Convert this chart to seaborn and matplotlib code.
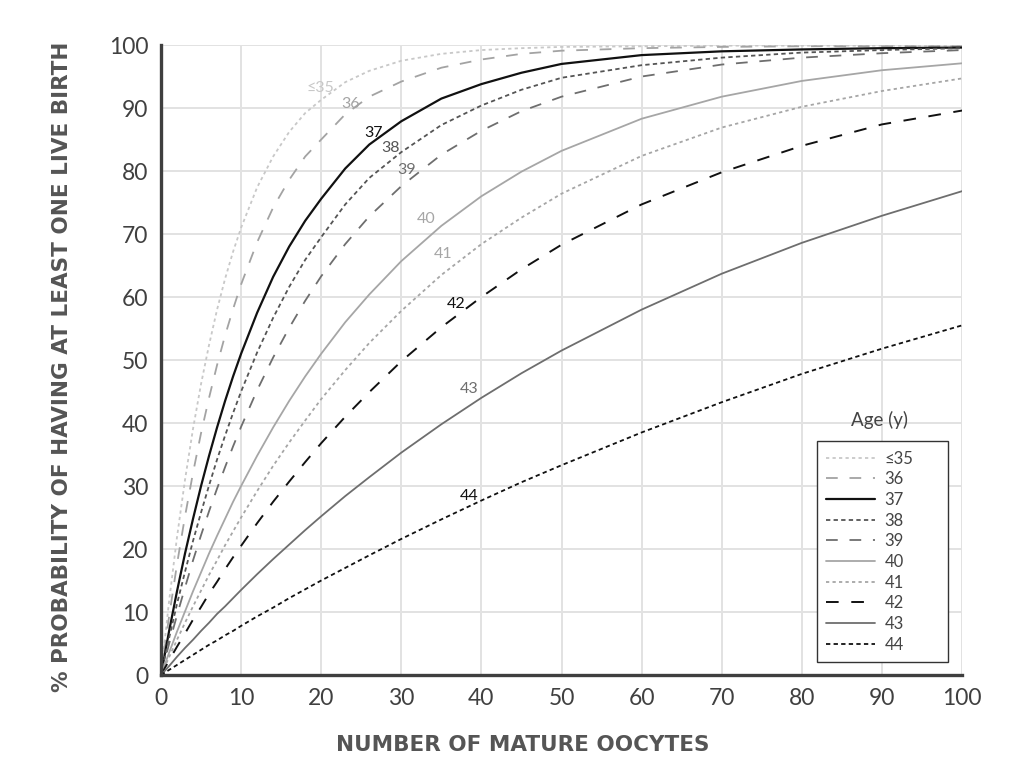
import numpy as np
import pandas as pd
import matplotlib
matplotlib.use("Agg")
import matplotlib.pyplot as plt
import seaborn as sns

# valores (número de ovocitos -> % probabilidad)
oocitos = [0, 1, 2, 3, 4, 5, 6, 7, 8, 9, 10, 12, 14, 16, 18, 20, 23, 26, 30, 35,
           40, 45, 50, 60, 70, 80, 90, 100]

edades = ["≤35", "36", "37", "38", "39", "40", "41", "42", "43", "44"]

prob_35 = [0, 11.6, 21.9, 31.0, 39.1, 46.2, 52.4, 58.0, 62.9, 67.2, 71.0, 77.4, 82.3, 86.2,
           89.2, 91.3, 94.1, 95.9, 97.5, 98.6, 99.2, 99.5, 99.7, 99.8, 99.9, 99.9, 99.9, 99.9]
prob_36 = [0, 9.2, 17.6, 25.2, 32.1, 38.4, 44.0, 49.2, 53.9, 58.1, 62.0, 68.7, 74.2, 78.6,
           82.3, 85.0, 89.0, 91.8, 94.2, 96.4, 97.7, 98.6, 99.1, 99.5, 99.7, 99.8, 99.8, 99.8]
prob_37 = [0, 6.9, 13.3, 19.3, 24.8, 30.0, 34.8, 39.3, 43.5, 47.4, 51.0, 57.5, 63.2, 68.0,
           72.1, 75.6, 80.4, 84.2, 87.9, 91.5, 93.8, 95.6, 97.0, 98.4, 99.0, 99.3, 99.5, 99.6]
prob_38 = [0, 5.8, 11.3, 16.4, 21.3, 25.8, 30.1, 34.2, 38.0, 41.6, 45.0, 51.2, 56.7, 61.6,
           65.9, 69.5, 74.7, 78.9, 83.0, 87.3, 90.4, 92.9, 94.8, 96.8, 98.0, 98.8, 99.2, 99.5]
prob_39 = [0, 4.9, 9.5, 13.9, 18.2, 22.2, 26.0, 29.6, 33.0, 36.3, 39.4, 45.2, 50.4, 55.1,
           59.4, 63.3, 68.4, 72.8, 77.6, 82.6, 86.4, 89.5, 91.8, 95.0, 96.9, 98.0, 98.7, 99.2]
prob_40 = [0, 3.5, 6.9, 10.1, 13.3, 16.3, 19.3, 22.1, 24.8, 27.5, 30.0, 34.8, 39.3, 43.5,
           47.4, 51.0, 56.0, 60.4, 65.7, 71.3, 76.0, 79.9, 83.2, 88.3, 91.8, 94.3, 96.0, 97.1]
prob_41 = [0, 2.8, 5.6, 8.3, 10.9, 13.4, 15.9, 18.2, 20.6, 22.8, 25.0, 29.2, 33.2, 36.9,
           40.4, 43.8, 48.4, 52.7, 57.8, 63.5, 68.4, 72.6, 76.4, 82.4, 86.9, 90.2, 92.7, 94.7]
prob_42 = [0, 2.3, 4.5, 6.6, 8.8, 10.8, 12.9, 14.8, 16.8, 18.7, 20.5, 24.1, 27.5, 30.7,
           33.8, 36.8, 41.0, 44.9, 49.8, 55.2, 60.0, 64.4, 68.3, 74.7, 79.8, 84.0, 87.4, 89.6]
prob_43 = [0, 1.4, 2.9, 4.3, 5.6, 7.0, 8.3, 9.7, 10.9, 12.2, 13.5, 16.0, 18.4, 20.7,
           23.0, 25.2, 28.4, 31.4, 35.3, 39.8, 44.0, 47.9, 51.5, 58.0, 63.7, 68.6, 72.9, 76.8]
prob_44 = [0, 0.8, 1.6, 2.4, 3.2, 4.0, 4.8, 5.5, 6.3, 7.0, 7.8, 9.3, 10.7, 12.2,
           13.6, 15.0, 17.0, 19.0, 21.6, 24.7, 27.7, 30.6, 33.3, 38.5, 43.3, 47.8, 51.8, 55.5]

probs = [prob_35, prob_36, prob_37, prob_38, prob_39, prob_40, prob_41, prob_42, prob_43, prob_44]

colores = ["#c8c8c8", "#a3a3a3", "#111111", "#555555", "#6e6e6e",
           "#a6a6a6", "#a6a6a6", "#111111", "#6e6e6e", "#111111"]
trazos = [(1.8, 1.8), (6.5, 6.5), "", (2.4, 1.8), (6.5, 6.5),
          "", (1.8, 1.8), (6.5, 6.5), "", (2.4, 1.8)]
grosores = [1.3, 1.3, 1.6, 1.3, 1.3, 1.3, 1.3, 1.4, 1.3, 1.3]

# posiciones de las etiquetas sobre las curvas
etiqueta_x = [19.9, 23.7, 26.5, 28.6, 30.6, 33.1, 35.2, 36.9, 38.5, 38.5]
etiqueta_y = [93.2, 90.6, 86.0, 83.7, 80.2, 72.4, 66.8, 58.9, 45.4, 28.4]

sns.set_style("white")
plt.rcParams['font.family'] = ['DejaVu Sans']

fig = plt.figure(figsize=(10.36, 7.71), dpi=100)
ax = fig.add_axes([0.1554, 0.1245, 0.7732, 0.8171])

for edad, valores, color, trazo, lw in zip(edades, probs, colores, trazos, grosores):
    df = pd.DataFrame({"oocitos": oocitos, "prob": valores})
    sns.lineplot(data=df, x="oocitos", y="prob", ax=ax, color=color,
                 linewidth=lw, label=edad, legend=False)
    l = ax.get_lines()[-1]
    if trazo:
        l.set_dashes(trazo)

for edad, x, y, color in zip(edades, etiqueta_x, etiqueta_y, colores):
    ax.text(x, y, edad, color=color, fontsize=11.5, ha="center", va="center",
            family="Lato")

ax.set_xlim(0, 100)
ax.set_ylim(0, 100)
ax.set_xticks(range(0, 101, 10))
ax.set_yticks(range(0, 101, 10))
ax.grid(True, color="#e2e2e2", linewidth=1.4)
ax.set_axisbelow(True)
ax.tick_params(length=0, labelsize=16.5, labelcolor="#404040", pad=9)
for etq in ax.get_xticklabels() + ax.get_yticklabels():
    etq.set_family("Lato")

for lado in ["top", "right"]:
    ax.spines[lado].set_visible(False)
for lado in ["left", "bottom"]:
    ax.spines[lado].set_color("#3f3f3f")
    ax.spines[lado].set_linewidth(2.4)

ax.set_xlabel("NUMBER OF MATURE OOCYTES", fontsize=15.5, fontweight="bold",
              color="#555555", va="center")
ax.xaxis.set_label_coords(0.452, -0.111)
ax.set_ylabel("% PROBABILITY OF HAVING AT LEAST ONE LIVE BIRTH", fontsize=15.5,
              fontweight="bold", color="#555555", va="center")
ax.yaxis.set_label_coords(-0.1236, 0.49)

# leyenda con ancho fijo como en el original
leyenda = ax.legend(loc="lower left", bbox_to_anchor=(0.819, 0.021, 0.1635, 0.0),
                    mode="expand", borderaxespad=0,
                    frameon=True, fancybox=False, edgecolor="#333333", framealpha=1,
                    handlelength=2.9, handletextpad=0.6, labelspacing=0.28, borderpad=0.55,
                    prop={"family": "Lato", "size": 12})
leyenda.get_frame().set_linewidth(1.0)
for t in leyenda.get_texts():
    t.set_color("#444444")
ax.text(0.897, 0.405, "Age (y)", transform=ax.transAxes, ha="center", va="center",
        fontsize=13.5, color="#444444", family="Lato")

fig.savefig("out.png", dpi=100)
